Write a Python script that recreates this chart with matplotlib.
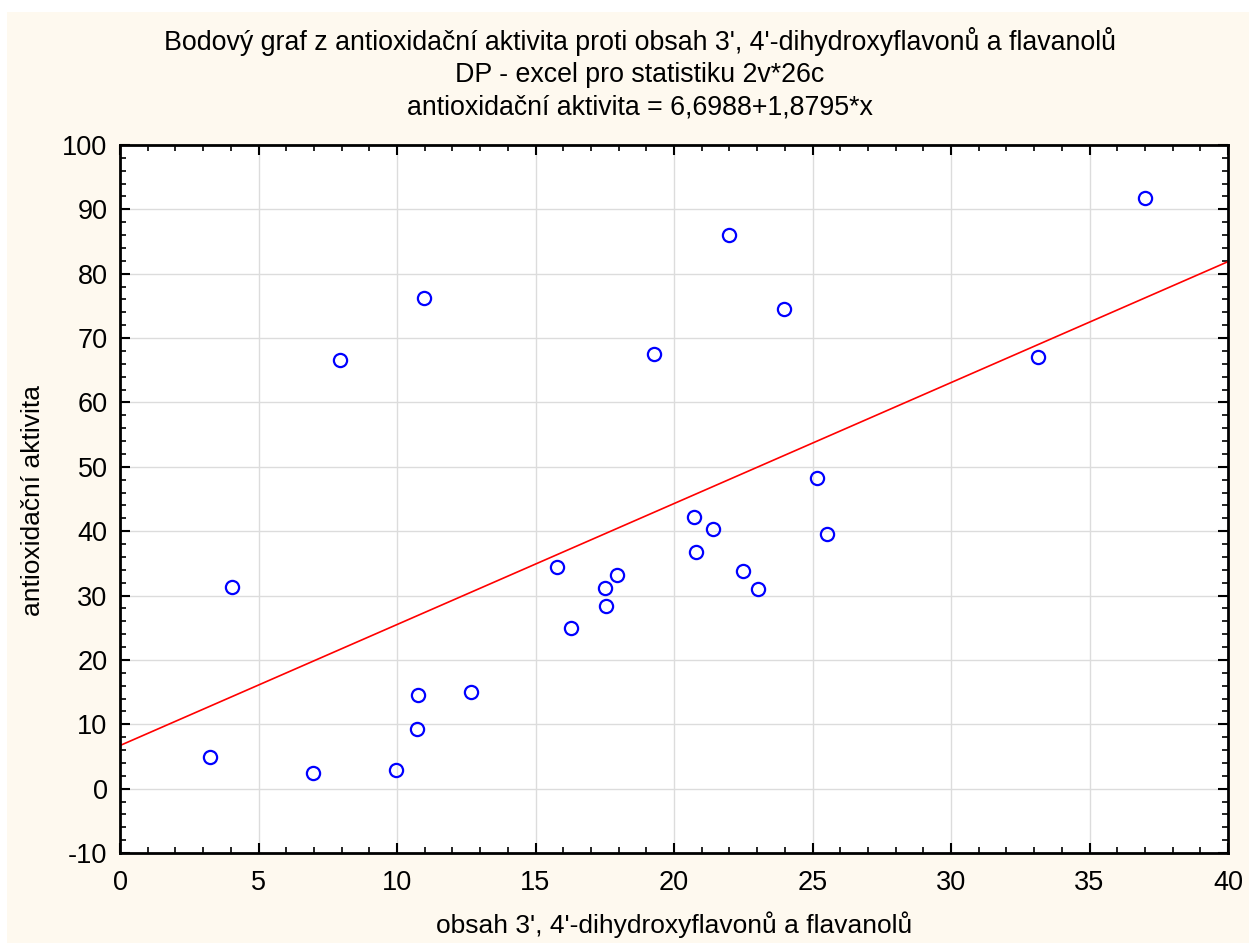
import numpy as np
import matplotlib.pyplot as plt
from matplotlib.patches import Rectangle
from matplotlib.ticker import MultipleLocator

plt.rcParams['font.family'] = ['Liberation Sans', 'DejaVu Sans']
plt.rcParams['axes.unicode_minus'] = False

# obsah 3', 4'-dihydroxyflavonu a flavanolu
obsah = [3.25, 4.05, 6.97, 7.95, 9.96, 10.76, 10.72, 10.97, 12.67, 15.78,
         16.28, 17.5, 17.55, 17.94, 19.28, 20.72, 20.79, 21.4, 21.99, 22.49,
         23.03, 23.97, 25.16, 25.52, 33.14, 37.0]
# antioxidacni aktivita
aktivita = [4.9, 31.3, 2.4, 66.6, 2.9, 14.5, 9.3, 76.2, 15.0, 34.5,
            25.0, 31.2, 28.3, 33.2, 67.5, 42.2, 36.8, 40.3, 86.0, 33.8,
            31.0, 74.5, 48.3, 39.6, 67.1, 91.8]

b0 = 6.6988
b1 = 1.8795

fig = plt.figure(figsize=(12.49, 9.43), dpi=100)
fig.patches.append(Rectangle((7 / 1249, 0), 1, 1 - 12 / 943, transform=fig.transFigure,
                             facecolor='#fef9ef', edgecolor='none', zorder=-10))

ax = fig.add_axes([120 / 1249, 1 - 853 / 943, 1108 / 1249, 708 / 943])
ax.set_facecolor('white')

ax.grid(True, color='#dcdcdc', linewidth=1, zorder=0)
ax.set_axisbelow(True)

xs = np.array([0, 40])
ax.plot(xs, b0 + b1 * xs, color='#ff0000', linewidth=1.2, zorder=2)
ax.plot(obsah, aktivita, 'o', markersize=9.5, markerfacecolor='none',
        markeredgecolor='#0000ff', markeredgewidth=1.6, zorder=3)

ax.set_xlim(0, 40)
ax.set_ylim(-10, 100)
ax.xaxis.set_major_locator(MultipleLocator(5))
ax.xaxis.set_minor_locator(MultipleLocator(1))
ax.yaxis.set_major_locator(MultipleLocator(10))
ax.yaxis.set_minor_locator(MultipleLocator(2))
ax.tick_params(which='both', direction='in', top=True, right=True, color='black')
ax.tick_params(which='major', length=7, width=1.5, labelsize=19.5)
ax.tick_params(axis='x', which='major', pad=12)
ax.tick_params(axis='y', which='major', pad=9)
ax.tick_params(which='minor', length=4, width=1.2)
for s in ax.spines.values():
    s.set_linewidth(2)

fig.text(640 / 1249, 1 - 42 / 943, "Bodový graf z antioxidační aktivita proti obsah 3', 4'-dihydroxyflavonů a flavanolů",
         ha='center', va='center', fontsize=19.3)
fig.text(640 / 1249, 1 - 75 / 943, "DP - excel pro statistiku 2v*26c",
         ha='center', va='center', fontsize=19.3)
fig.text(640 / 1249, 1 - 108 / 943, "antioxidační aktivita = 6,6988+1,8795*x",
         ha='center', va='center', fontsize=19.3)

fig.text(674 / 1249, 1 - 925 / 943, "obsah 3', 4'-dihydroxyflavonů a flavanolů",
         ha='center', va='center', fontsize=19)
fig.text(33 / 1249, 1 - 500 / 943, "antioxidační aktivita", rotation=90,
         ha='center', va='center', fontsize=19)

fig.savefig('out.png', dpi=100)
